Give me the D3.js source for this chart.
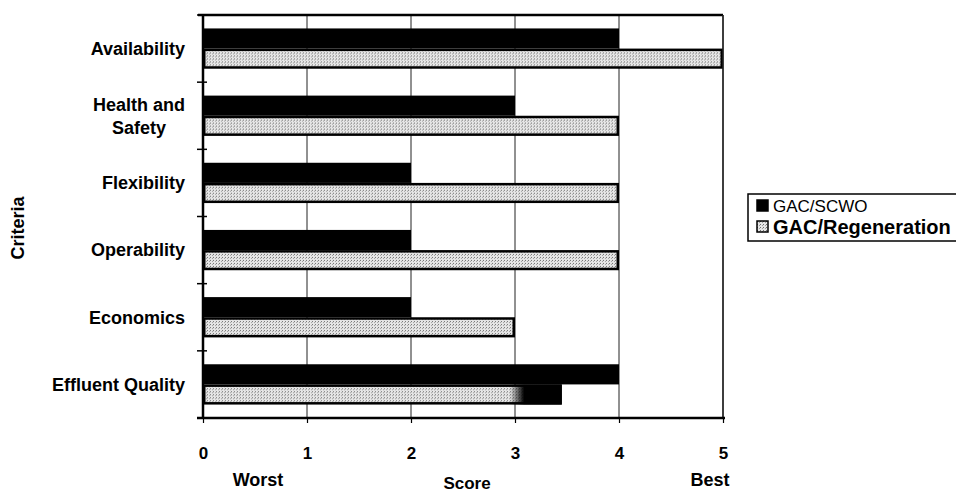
<!DOCTYPE html>
<html>
<head>
<meta charset="utf-8">
<script src="https://cdn.jsdelivr.net/npm/d3@7"></script>
<style>
  html, body { margin: 0; padding: 0; background: #fff; }
  svg { display: block; font-family: "Liberation Sans", Arial, Helvetica, sans-serif; }
  text { fill: #000; }
</style>
</head>
<body>
<svg id="chart" width="956" height="493"></svg>
<script>
// Criteria scored for each treatment option (0 = worst, 5 = best)
const categories = ["Availability", "Health and\nSafety", "Flexibility", "Operability", "Economics", "Effluent Quality"];
const seriesNames = ["GAC/SCWO", "GAC/Regeneration"];
const scwoScores = [4, 3, 2, 2, 2, 4];
const regenScores = [5, 4, 4, 4, 3, 3.45];
const xTicks = [0, 1, 2, 3, 4, 5];
const xEndLabels = ["Worst", "Score", "Best"];
const yTitle = "Criteria";
// Score where the Effluent Quality regeneration bar turns dark
const regenDarkFrom = 2.95;

const svg = d3.select("#chart");
const defs = svg.append("defs");

// Stippled grey fill for the regeneration bars
const pat = defs.append("pattern")
  .attr("id", "stipple").attr("patternUnits", "userSpaceOnUse")
  .attr("width", 3).attr("height", 3);
pat.append("rect").attr("width", 3).attr("height", 3).attr("fill", "#e6e6e6");
pat.append("rect").attr("x", 0).attr("y", 0).attr("width", 1).attr("height", 1).attr("fill", "#707070");
pat.append("rect").attr("x", 2).attr("y", 1).attr("width", 1).attr("height", 1).attr("fill", "#a0a0a0");

const plot = { left: 203, right: 723, top: 15, bottom: 418 };

const x = d3.scaleLinear().domain([0, 5]).range([plot.left, plot.right]);
const y = d3.scaleBand().domain(categories).range([plot.top, plot.bottom])
  .paddingInner(0.4).paddingOuter(0.2);
const ySub = d3.scaleBand().domain(seriesNames).range([0, y.bandwidth()]);

const rows = categories.map((c, i) => ({ cat: c, scwo: scwoScores[i], regen: regenScores[i] }));

// Vertical gridlines at each score
svg.append("g").selectAll("line")
  .data(xTicks.slice(1))
  .join("line")
  .attr("x1", d => x(d)).attr("x2", d => x(d))
  .attr("y1", plot.top).attr("y2", plot.bottom)
  .attr("stroke", "#222").attr("stroke-width", 1);

// Bars
const groups = svg.append("g").selectAll("g")
  .data(rows).join("g")
  .attr("transform", d => `translate(0,${y(d.cat)})`);

groups.append("rect")
  .attr("x", x(0))
  .attr("y", ySub("GAC/SCWO"))
  .attr("width", d => x(d.scwo) - x(0))
  .attr("height", ySub.bandwidth())
  .attr("fill", "#000");

groups.append("rect")
  .attr("x", x(0) + 1.25)
  .attr("y", ySub("GAC/Regeneration") + 1.25)
  .attr("width", d => x(d.regen) - x(0) - 2.5)
  .attr("height", ySub.bandwidth() - 2.5)
  .attr("fill", "url(#stipple)")
  .attr("stroke", "#000").attr("stroke-width", 2.5);

// Darkened tail of the Effluent Quality regeneration bar
const effluent = rows[rows.length - 1];
const grad = defs.append("linearGradient").attr("id", "tail")
  .attr("x1", 0).attr("x2", 1).attr("y1", 0).attr("y2", 0);
const tailOffset = (x(regenDarkFrom) - x(0)) / (x(effluent.regen) - x(0));
grad.append("stop").attr("offset", 0).attr("stop-color", "#000").attr("stop-opacity", 0);
grad.append("stop").attr("offset", tailOffset).attr("stop-color", "#000").attr("stop-opacity", 0);
grad.append("stop").attr("offset", Math.min(1, tailOffset + 0.04)).attr("stop-color", "#000").attr("stop-opacity", 1);
grad.append("stop").attr("offset", 1).attr("stop-color", "#000").attr("stop-opacity", 1);
svg.append("rect")
  .attr("x", x(0))
  .attr("y", y(effluent.cat) + ySub("GAC/Regeneration"))
  .attr("width", x(effluent.regen) - x(0))
  .attr("height", ySub.bandwidth())
  .attr("fill", "url(#tail)");

// Plot frame: heavy left/top/bottom, light right edge
svg.append("line").attr("x1", plot.left - 5).attr("x2", plot.right).attr("y1", plot.top).attr("y2", plot.top)
  .attr("stroke", "#000").attr("stroke-width", 2.5);
svg.append("line").attr("x1", plot.right).attr("x2", plot.right).attr("y1", plot.top).attr("y2", plot.bottom)
  .attr("stroke", "#222").attr("stroke-width", 1.5);

// Category axis
const step = y.step();
const catBounds = categories.map(c => y(c) - step * y.paddingOuter()).concat([plot.bottom]);
const yAxis = svg.append("g");
yAxis.append("line").attr("x1", plot.left).attr("x2", plot.left)
  .attr("y1", plot.top).attr("y2", plot.bottom)
  .attr("stroke", "#000").attr("stroke-width", 2.5);
yAxis.selectAll("line.tick").data(catBounds).join("line").attr("class", "tick")
  .attr("x1", plot.left - 6).attr("x2", plot.left + 4)
  .attr("y1", d => d).attr("y2", d => d)
  .attr("stroke", "#000").attr("stroke-width", 1.5);

const labelRight = 185;
const lineH = 23;
yAxis.selectAll("g.cat").data(categories).join("g").attr("class", "cat")
  .each(function (c) {
    const lines = c.split("\n");
    const g = d3.select(this);
    const cy = y(c) + y.bandwidth() / 2;
    const texts = lines.map((ln, i) => g.append("text")
      .attr("font-size", 18).attr("font-weight", "bold")
      .attr("y", cy + (i - (lines.length - 1) / 2) * lineH)
      .attr("dy", "0.35em")
      .text(ln));
    const widths = texts.map(t => t.node().getComputedTextLength());
    const maxW = d3.max(widths);
    const center = labelRight - maxW / 2;
    texts.forEach(t => t.attr("x", center).attr("text-anchor", "middle"));
  });

// Score axis
const xAxis = svg.append("g").attr("transform", `translate(0,${plot.bottom})`)
  .call(d3.axisBottom(x).tickValues(xTicks).tickSize(5).tickPadding(24).tickFormat(d3.format("d")));
xAxis.select(".domain").attr("stroke", "#000").attr("stroke-width", 2.5)
  .attr("d", `M${plot.left - 6},0H${plot.right + 2}`);
xAxis.selectAll(".tick line").attr("stroke", "#000").attr("stroke-width", 1.2);
xAxis.selectAll(".tick text").attr("font-size", 17).attr("font-weight", "bold")
  .attr("font-family", "Liberation Sans, Arial, sans-serif").attr("fill", "#000");

// Scale end labels under the axis
svg.append("text").attr("x", 258).attr("y", 486).attr("text-anchor", "middle")
  .attr("font-size", 18).attr("font-weight", "bold").text(xEndLabels[0]);
svg.append("text").attr("x", 467).attr("y", 489).attr("text-anchor", "middle")
  .attr("font-size", 17).attr("font-weight", "bold").text(xEndLabels[1]);
svg.append("text").attr("x", 710).attr("y", 486).attr("text-anchor", "middle")
  .attr("font-size", 18).attr("font-weight", "bold").text(xEndLabels[2]);

// Axis title
svg.append("text")
  .attr("transform", "translate(24,228) rotate(-90)")
  .attr("text-anchor", "middle").attr("font-size", 18).attr("font-weight", "bold")
  .text(yTitle);

// Legend
const legend = svg.append("g").attr("transform", "translate(748,194)");
legend.append("rect").attr("x", 0).attr("y", 0).attr("width", 240).attr("height", 47)
  .attr("fill", "#fff").attr("stroke", "#000").attr("stroke-width", 1.5);
const legendRows = legend.selectAll("g").data(seriesNames).join("g")
  .attr("transform", (d, i) => `translate(9,${12 + i * 21})`);
legendRows.append("rect").attr("x", 0).attr("y", -6).attr("width", 11).attr("height", 11)
  .attr("fill", (d, i) => i === 0 ? "#000" : "url(#stipple)")
  .attr("stroke", "#000").attr("stroke-width", 1.5);
legendRows.append("text").attr("x", 16).attr("y", 0).attr("dy", "0.36em")
  .attr("font-size", (d, i) => i === 0 ? 17 : 20)
  .attr("font-weight", (d, i) => i === 0 ? "normal" : "bold")
  .text(d => d);
</script>
</body>
</html>
